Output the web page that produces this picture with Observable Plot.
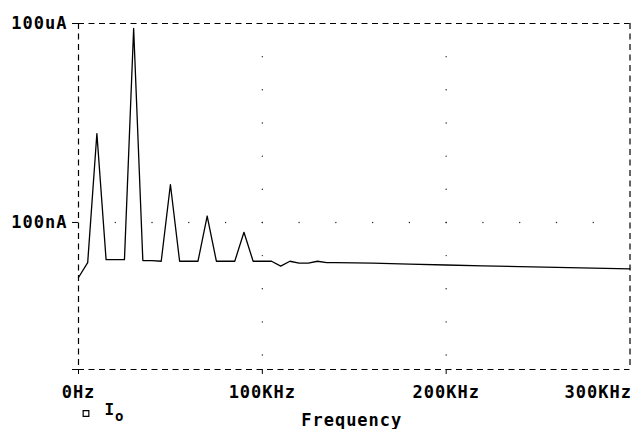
<!DOCTYPE html>
<html>
<head>
<meta charset="utf-8">
<script src="https://cdn.jsdelivr.net/npm/d3@7"></script>
<script src="https://cdn.jsdelivr.net/npm/@observablehq/plot@0.6"></script>
<style>
  html, body { margin: 0; padding: 0; background: #fff; }
</style>
</head>
<body>
<div id="chart"></div>
<script>
// Frequency samples (kHz) and FFT current magnitude (A)
const freqKHz = [0,5,10,15,20,25,30,35,40,45,50,55,60,65,70,75,80,85,90,95,100,105,110,115,120,125,130,135,140,160,180,200,220,240,260,280,300];
const currentA = [1.48e-8,2.48e-8,2.19e-6,2.75e-8,2.75e-8,2.75e-8,8.4e-5,2.66e-8,2.66e-8,2.6e-8,3.73e-7,2.6e-8,2.6e-8,2.6e-8,1.25e-7,2.6e-8,2.6e-8,2.6e-8,7.1e-8,2.6e-8,2.6e-8,2.6e-8,2.2e-8,2.6e-8,2.43e-8,2.43e-8,2.6e-8,2.48e-8,2.48e-8,2.44e-8,2.36e-8,2.28e-8,2.21e-8,2.16e-8,2.10e-8,2.05e-8,2.0e-8];

// axis ticks
const yTickValues = [1e-4, 1e-7, 6.06e-10];
const yTickLabels = ["100uA", "100nA", "606pA"];
const xTickValues = [0, 100, 200, 300];
const xTickLabels = ["0Hz", "100KHz", "200KHz", "300KHz"];

// plot extent (frame edges)
const xExtentKHz = [0, 300];
const yExtentA = [6.06e-10, 1e-4];

// dotted grid positions
const gridRowAmp = 1e-7;
const gridRowFreqs = [20,40,60,80,100,120,140,160,180,200,220,240,260,280];
const gridColFreqs = [100, 200];
const gridColAmps = [3.162e-5,1e-5,3.162e-6,1e-6,3.162e-7,3.162e-8,1e-8,3.162e-9,1e-9];

const traceName = "I";
const traceSub = "o";
const xLabel = "Frequency";

const data = freqKHz.map((f, i) => ({f: f * 1000, v: currentA[i]}));
const gridRow = gridRowFreqs.map(f => ({f: f * 1000, v: gridRowAmp}));
const gridCol = gridColFreqs.flatMap(f => [...gridColAmps, gridRowAmp].map(v => ({f: f * 1000, v})));

const fmtX = d => xTickLabels[xTickValues.indexOf(Math.round(d / 1000))];
const fmtY = d => yTickLabels[yTickValues.indexOf(d)];
const dash = "6,4.5";

const chart = Plot.plot({
  width: 631,
  height: 429,
  marginLeft: 78,
  marginRight: 1.5,
  marginTop: 23,
  marginBottom: 60,
  style: {
    fontFamily: "'DejaVu Sans Mono', monospace",
    fontSize: "17px",
    fontWeight: "bold",
    letterSpacing: "1px",
    color: "black",
    background: "white"
  },
  x: {domain: xExtentKHz.map(d => d * 1000)},
  y: {type: "log", domain: yExtentA},
  marks: [
    Plot.ruleX(xExtentKHz.map(d => d * 1000), {stroke: "black", strokeWidth: 1.2, strokeDasharray: dash}),
    Plot.ruleY(yExtentA, {stroke: "black", strokeWidth: 1.2, strokeDasharray: dash}),
    Plot.dot(gridRow, {x: "f", y: "v", r: 0.7, fill: "#222", stroke: null}),
    Plot.dot(gridCol, {x: "f", y: "v", r: 0.7, fill: "#222", stroke: null}),
    Plot.line(data, {x: "f", y: "v", stroke: "black", strokeWidth: 1.3}),
    Plot.axisY({ticks: yTickValues, tickFormat: fmtY, tickSize: 6, tickPadding: 5, label: null}),
    Plot.axisX({ticks: [0, 100000, 200000], tickFormat: fmtX, tickSize: 5, tickPadding: 11, label: null}),
    Plot.axisX({ticks: [300000], tickFormat: fmtX, tickSize: 5, tickPadding: 11, textAnchor: "end", dx: 2, label: null}),
    Plot.text([xLabel], {text: d => d, frameAnchor: "bottom", dx: -2.5, dy: 56}),
    Plot.dot([traceName], {frameAnchor: "bottom-left", dx: 7.5, dy: 44, symbol: "square", r: 3.2, stroke: "black", strokeWidth: 1.2, fill: "white"}),
    Plot.text([traceName], {text: d => d, frameAnchor: "bottom-left", dx: 26, dy: 45, fontSize: 16}),
    Plot.text([traceSub], {text: d => d, frameAnchor: "bottom-left", dx: 36.5, dy: 51, fontSize: 14})
  ]
});

document.getElementById("chart").appendChild(chart);
</script>
</body>
</html>
